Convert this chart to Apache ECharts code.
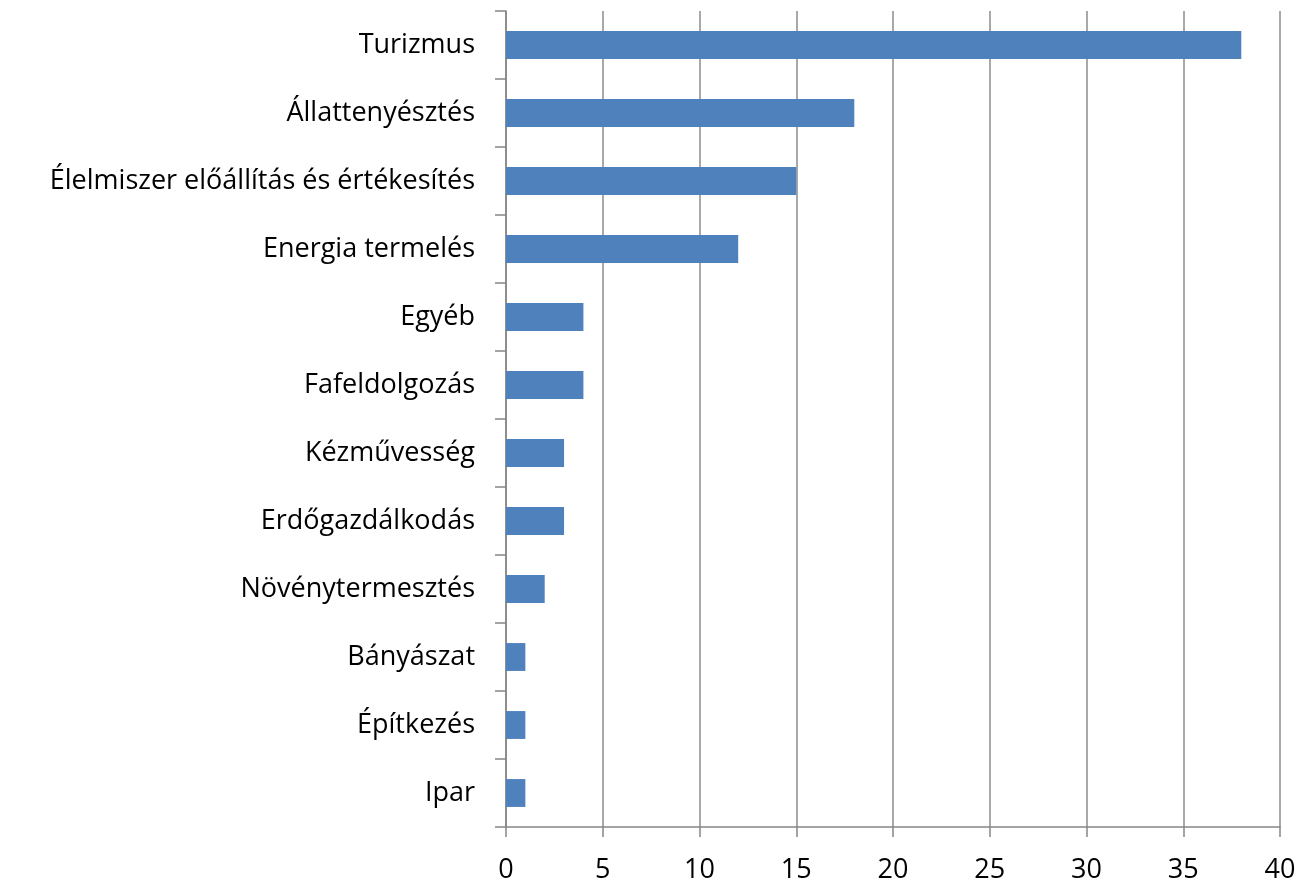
<!DOCTYPE html>
<html><head><meta charset="utf-8">
<script src="https://cdn.jsdelivr.net/npm/echarts@6/dist/echarts.min.js"></script>
<style>html,body{margin:0;padding:0;background:#fff}#c{width:1302px;height:886px}</style>
</head><body><div id="c"></div>
<script>
const categories = ["Turizmus","Állattenyésztés","Élelmiszer előállítás és értékesítés","Energia termelés","Egyéb","Fafeldolgozás","Kézművesség","Erdőgazdálkodás","Növénytermesztés","Bányászat","Építkezés","Ipar"];
const values = [38,18,15,12,4,4,3,3,2,1,1,1];
const chart = echarts.init(document.getElementById('c'));
const font = "'Open Sans',sans-serif";
chart.setOption({
  animation:false,
  grid:{left:506,right:22,top:11,bottom:59,containLabel:false},
  xAxis:{type:'value',min:0,max:40,interval:5,
    axisLine:{show:true,lineStyle:{color:'#868686',width:1.5}},
    axisTick:{show:true,length:10,lineStyle:{color:'#868686',width:1.5}},
    splitLine:{show:true,lineStyle:{color:'#8c8c8c',width:1.5}},
    axisLabel:{color:'#000',fontSize:27,fontFamily:font,margin:30}},
  yAxis:{type:'category',inverse:true,data:categories,
    axisLine:{show:true,lineStyle:{color:'#868686',width:1.5}},
    axisTick:{show:true,length:11,lineStyle:{color:'#868686',width:1.5}},
    axisLabel:{color:'#000',fontSize:27,fontFamily:font,margin:31}},
  series:[{type:'bar',data:values,barCategoryGap:'59%',itemStyle:{color:'#4F81BD'}}]
});
</script></body></html>
